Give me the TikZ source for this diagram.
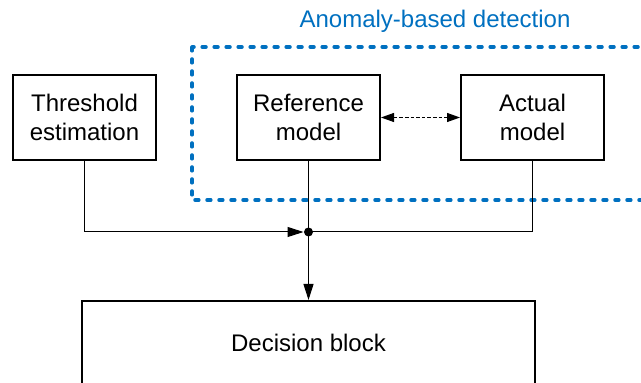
\documentclass[tikz,border=0pt]{standalone}
\usepackage{fontspec}
\setmainfont{Liberation Sans}
\usetikzlibrary{arrows.meta,positioning}
\definecolor{anomblue}{RGB}{0,112,192}

\begin{document}
\begin{tikzpicture}[x=0.5pt,y=-0.5pt,>={Triangle[length=8pt,width=5pt]},node distance=112pt,
        font=\fontsize{12}{14.5}\selectfont,
        block node/.style={rectangle,draw,line width=1pt,minimum width=71.5pt,minimum height=42.5pt,align=center,inner sep=0pt},
        link/.style={line width=0.5pt},
        anomaly box/.style={draw=anomblue,line width=1.75pt,line cap=round,dash pattern=on 1.9pt off 4.1pt}]
        \useasboundingbox (0,0) rectangle (641,383);
        \clip (0,0) rectangle (641,383);
        % anomaly-based detection frame
        \draw[anomaly box] (192,47) rectangle (670,200);
        \node[text=anomblue] (anomlabel) at (435,21) {Anomaly-based detection};
        % blocks
        \node[block node] (thresh) at (84.5,117.5) {Threshold\\estimation};
        \node[block node] (ref) [right of=thresh] {Reference\\model};
        \node[block node] (act) [right of=ref] {Actual\\model};
        \node[block node,minimum width=226.5pt,minimum height=42pt] (dec) at (308.5,343) {Decision block};
        \path (ref.south) ++(0,71) coordinate (junc);
        % connections
        \draw[link,dashed,dash pattern=on 1.8pt off 1pt,<->,>={Triangle[length=6.5pt,width=4.5pt]}] (ref) -- (act);
        \draw[link,->,shorten >=2.5pt] (thresh.south) |- (junc);
        \draw[link] (act.south) |- (junc);
        \draw[link] (ref.south) -- (junc);
        \draw[link,->] (junc) -- (junc |- dec.north);
        \fill (junc) circle (4.5);
\end{tikzpicture}
\end{document}
